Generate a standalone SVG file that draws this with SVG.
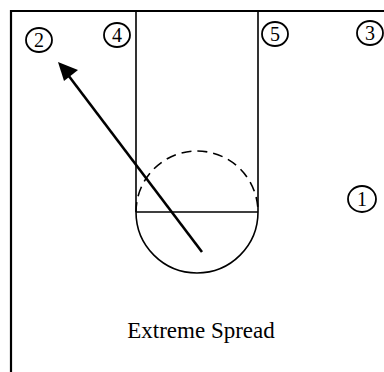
<svg xmlns="http://www.w3.org/2000/svg" width="384" height="372" viewBox="0 0 384 372">
<style>
.court{fill:none;stroke:#000;stroke-width:1.6}
.border{fill:none;stroke:#000;stroke-width:2.2}
.pl{fill:none;stroke:#000;stroke-width:1.8}
.num{font-family:"Liberation Serif",serif;font-size:20px;text-anchor:middle;fill:#000}
.cap{font-family:"Liberation Serif",serif;font-size:23px;text-anchor:middle;fill:#000}
</style>
<g id="court">
<path class="border" d="M11,372 V11 H384"/>
<path class="court" d="M136,11 V212 M258,11 V212 M136,212 H258"/>
<path class="court" d="M136,212 A61,61 0 0 0 258,212"/>
<path class="court" d="M136,212 A61,61 0 0 1 258,212" stroke-dasharray="10,6"/>
</g>
<g id="p2"><ellipse class="pl" cx="39" cy="40" rx="13" ry="12"/><text class="num" x="39" y="47">2</text></g>
<g id="p4"><ellipse class="pl" cx="117" cy="35" rx="13" ry="12"/><text class="num" x="117" y="42">4</text></g>
<g id="p5"><ellipse class="pl" cx="275" cy="34" rx="13" ry="12"/><text class="num" x="275" y="41">5</text></g>
<g id="p3"><ellipse class="pl" cx="370" cy="33" rx="13" ry="12"/><text class="num" x="370" y="40">3</text></g>
<g id="p1"><ellipse class="pl" cx="362" cy="199" rx="14" ry="13"/><text class="num" x="362" y="206">1</text></g>
<g id="connectors">
<line x1="202" y1="252" x2="62" y2="67" stroke="#000" stroke-width="2.6"/>
<path d="M58,62 L78,70 L64,81 z" fill="#000"/>
</g>
<text class="cap" x="201" y="338">Extreme Spread</text>
</svg>
